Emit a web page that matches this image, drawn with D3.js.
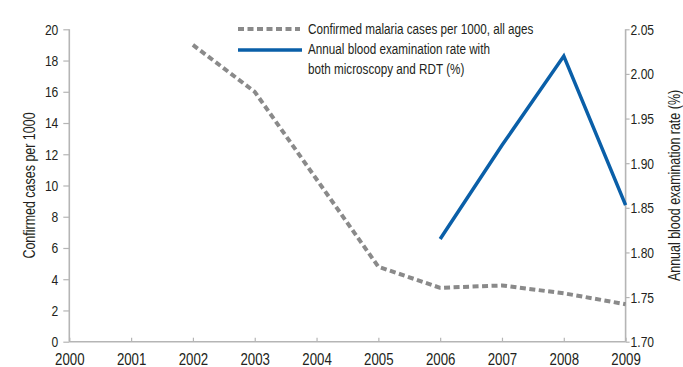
<!DOCTYPE html>
<html>
<head>
<meta charset="utf-8">
<script src="https://cdn.jsdelivr.net/npm/d3@7"></script>
<style>
html,body{margin:0;padding:0;background:#fff;}
svg text{font-family:"Liberation Sans",Arial,sans-serif;fill:#231f20;}
</style>
</head>
<body>
<svg id="chart" width="683" height="367"></svg>
<script>
const years = [2000,2001,2002,2003,2004,2005,2006,2007,2008,2009];
const casesYears = [2002,2003,2004,2005,2006,2007,2008,2009];
const casesValues = [19.0,16.0,10.4,4.8,3.45,3.6,3.1,2.4];
const aberYears = [2006,2007,2008,2009];
const aberValues = [1.815,1.92,2.02,1.853];
const leftTicks = [0,2,4,6,8,10,12,14,16,18,20];
const rightTicks = [1.70,1.75,1.80,1.85,1.90,1.95,2.00,2.05];
const legendLabels = [["Confirmed malaria cases per 1000, all ages"],["Annual blood examination rate with","both microscopy and RDT (%)"]];
const leftTitle = "Confirmed cases per 1000";
const rightTitle = "Annual blood examination rate (%)";

const svg = d3.select("#chart");
const pLeft = 69.3, pRight = 625.6, pTop = 29.3, pBottom = 341.7;
const axisColor = "#b5b5b5", grey = "#8a8a8a", blue = "#0a5fa8";
const SX = 0.78; // horizontal condensing of the text

function condense(sel, s){
  s = s || SX;
  sel.each(function(){
    const t = d3.select(this);
    const x = +(t.attr("x")||0);
    t.attr("x", x/s);
    const tr = t.attr("transform")||"";
    t.attr("transform", tr + ` scale(${s},1)`);
  });
}

const x = d3.scaleLinear().domain([2000,2009]).range([pLeft,pRight]);
const yL = d3.scaleLinear().domain([0,20]).range([pBottom,pTop]);
const yR = d3.scaleLinear().domain([1.70,2.05]).range([pBottom,pTop]);

const gL = svg.append("g").attr("transform",`translate(${pLeft},0)`)
  .call(d3.axisLeft(yL).tickValues(leftTicks).tickSize(6).tickPadding(5).tickFormat(d3.format("d")));
const gR = svg.append("g").attr("transform",`translate(${pRight},0)`)
  .call(d3.axisRight(yR).tickValues(rightTicks).tickSize(4).tickPadding(1).tickFormat(d3.format(".2f")));
const gB = svg.append("g").attr("transform",`translate(0,${pBottom})`)
  .call(d3.axisBottom(x).tickValues(years).tickSize(-4).tickPadding(11).tickFormat(d3.format("d")));

[gL,gR,gB].forEach(g=>{
  g.attr("font-family",null).attr("font-size",null);
  g.select(".domain").attr("stroke",axisColor).attr("stroke-width",1.6);
  g.selectAll(".tick line").attr("stroke",axisColor).attr("stroke-width",1.2);
  g.selectAll("text").attr("fill","#231f20");
});
gL.selectAll("text").style("font-size","15.5px");
gR.selectAll("text").style("font-size","15.5px");
gB.selectAll("text").style("font-size","17px");
condense(gL.selectAll("text"));
condense(gR.selectAll("text"));
condense(gB.selectAll("text"));
gL.select(".domain").attr("d",`M0,${pTop}V${pBottom}`);
gR.select(".domain").attr("d",`M0,${pTop}V${pBottom}`);
gB.select(".domain").attr("d",`M${pLeft},0H${pRight}`);

// axis titles
const midY = (pTop+pBottom)/2;
const tL = svg.append("text").attr("transform",`translate(35,${midY}) rotate(-90)`)
  .attr("text-anchor","middle").style("font-size","16px").text(leftTitle);
const tR = svg.append("text").attr("transform",`translate(680,${midY}) rotate(-90)`)
  .attr("text-anchor","middle").style("font-size","16px").text(rightTitle);
condense(tL); condense(tR);

// lines
const lineL = d3.line().x((d,i)=>x(casesYears[i])).y(d=>yL(d));
svg.append("path").datum(casesValues).attr("d",lineL)
  .attr("fill","none").attr("stroke",grey).attr("stroke-width",4)
  .attr("stroke-dasharray","6,3.5").attr("stroke-linejoin","round");
const lineR = d3.line().x((d,i)=>x(aberYears[i])).y(d=>yR(d));
svg.append("path").datum(aberValues).attr("d",lineR)
  .attr("fill","none").attr("stroke",blue).attr("stroke-width",3.5)
  .attr("stroke-linejoin","miter");

// legend
const lg = svg.append("g");
lg.append("line").attr("x1",238).attr("x2",300).attr("y1",29).attr("y2",29)
  .attr("stroke",grey).attr("stroke-width",4).attr("stroke-dasharray","6,3.5");
lg.append("line").attr("x1",238).attr("x2",302).attr("y1",50).attr("y2",50)
  .attr("stroke",blue).attr("stroke-width",3.5);
const lt = [];
lt.push(lg.append("text").attr("x",308).attr("y",34).style("font-size","15px").text(legendLabels[0][0]));
legendLabels[1].forEach((t,i)=>{
  lt.push(lg.append("text").attr("x",308).attr("y",54.5+i*19.5).style("font-size","15px").text(t));
});
lt.forEach(s=>condense(s));
</script>
</body>
</html>
